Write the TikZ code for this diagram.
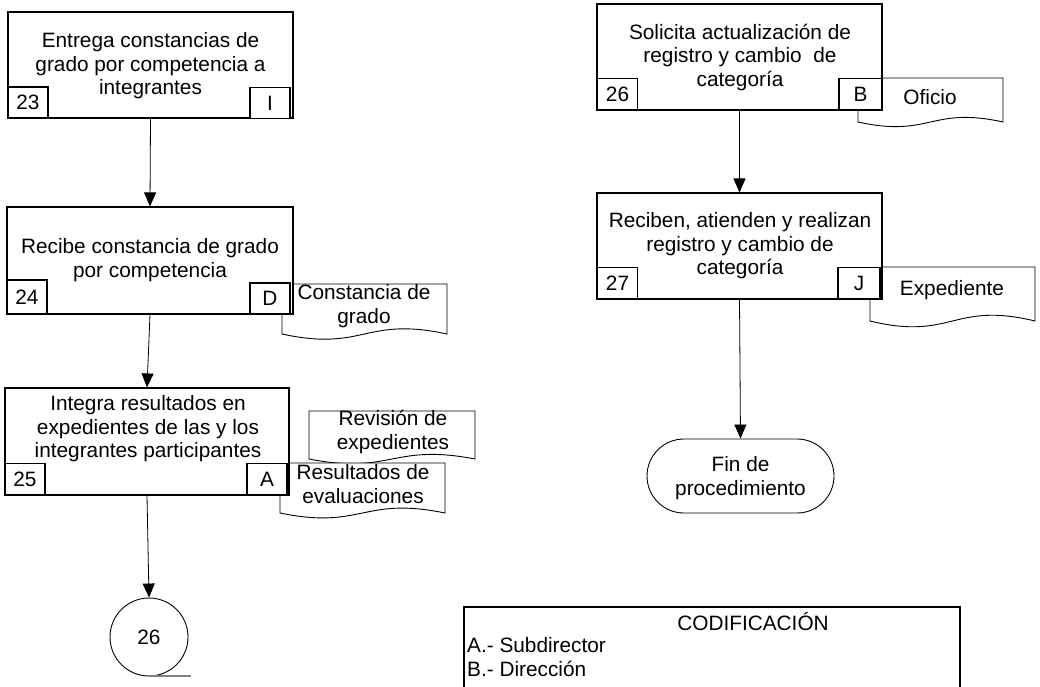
\documentclass[tikz,border=0pt]{standalone}
\usepackage{fontspec}
\setmainfont{Liberation Sans}
\usetikzlibrary{arrows.meta}
\newcommand\docshape[5]{% x1, top, x2, L, c
  \path[draw, line width=0.9pt, fill=white] (#1,#4) -- (#1,#2) -- (#3,#2) -- (#3,#4)
    .. controls ({(#1+#3)/2},{#4-#5}) and ({(#1+#3)/2},{#4+#5}) .. (#1,#4) -- cycle;}
\begin{document}
\begin{tikzpicture}[x=1pt,y=-1pt,
  every node/.style={font=\fontsize{20.8}{23.5}\selectfont, inner sep=0pt},
  procbox/.style={draw, line width=1.1pt, fill=white, rectangle},
  codebox/.style={draw, line width=1.1pt, fill=white, rectangle, minimum width=40pt, minimum height=31pt},
  txt/.style={align=center},
  arrow/.style={line width=0.8pt, -{Triangle[length=14pt,width=12pt]}}]
\useasboundingbox (0,0) rectangle (1040,686);

% documents (drawn behind the boxes)
\docshape{309}{411}{475}{459}{16}
\node[txt] (tRev) at (393,432) {Revisión de\\expedientes};
\docshape{280}{463}{445}{513}{17}
\node[txt] (tRes) at (363,484) {Resultados de\\evaluaciones};
\docshape{282}{284}{447}{334}{18}
\node[txt] (tCon) at (364,306) {Constancia de\\grado};
\docshape{858}{78}{1003}{122}{16}
\node[txt] (tOfi) at (930,97) {Oficio};
\docshape{870}{267}{1035}{321}{20}
\node[txt] (tExp) at (952,290) {Expediente};

% process boxes
\node[procbox, minimum width=285pt, minimum height=106pt] (box23) at (150.5,65) {};
\node[txt] (t23) at (150.5,66) {Entrega constancias de\\grado por competencia a\\integrantes};
\node[codebox] (c23) at (28,102.5) {23};
\node[codebox] (cI) at (270,103) {I};

\node[procbox, minimum width=286pt, minimum height=107pt] (box24) at (150,260.5) {};
\node[txt] (t24) at (150,260) {Recibe constancia de grado\\por competencia};
\node[codebox, minimum height=34pt] (c24) at (27,297) {24};
\node[codebox] (cD) at (270,298.5) {D};

\node[procbox, minimum width=284pt, minimum height=107pt] (box25) at (147,441.5) {};
\node[txt] (t25) at (148,429) {Integra resultados en\\expedientes de las y los\\integrantes participantes};
\node[codebox] (c25) at (25,479) {25};
\node[codebox] (cA) at (267,479) {A};

\node[procbox, minimum width=285pt, minimum height=106pt] (box26) at (739.5,57) {};
\node[txt] (t26) at (740,57) {Solicita actualización de\\registro y cambio\ \ de\\categoría};
\node[codebox] (c26) at (617.5,94) {26};
\node[codebox, minimum width=43pt] (cB) at (860.5,94) {B};

\node[procbox, minimum width=285pt, minimum height=106pt] (box27) at (739.5,246) {};
\node[txt] (t27) at (740,246) {Reciben, atienden y realizan\\registro y cambio de\\categoría};
\node[codebox] (c27) at (617.5,283) {27};
\node[codebox, minimum width=42pt] (cJ) at (859,283) {J};

% terminator
\node[draw, line width=0.9pt, fill=white, rectangle, rounded corners=37pt,
      minimum width=187pt, minimum height=74pt] (fin) at (740.5,476) {};
\node[txt] (tFin) at (740.5,478) {Fin de\\procedimiento};

% connector circle
\node[draw, line width=0.9pt, circle, minimum size=78pt] (con26) at (149,637) {26};
\coordinate (stubA) at (149,676);
\coordinate (stubB) at (191,676);
\draw[gray, line width=1.5pt] (stubA) -- (stubB);

% arrows
\draw[arrow] (box23.south) -- (box24.north);
\draw[arrow] (box24.south) -- (box25.north);
\draw[arrow] (box25.south) -- (con26.north);
\draw[arrow] (box26.south) -- (box27.north);
\draw[arrow] (box27.south) -- (fin.north);

% codification
\node[draw, line width=1.1pt, rectangle, minimum width=496pt, minimum height=100pt] (cod) at (712,657) {};
\node (codT) at (753,622) {CODIFICACIÓN};
\node[anchor=west] (codA) at (467,645) {A.- Subdirector};
\node[anchor=west] (codB) at (467,669) {B.- Dirección};
\end{tikzpicture}
\end{document}
